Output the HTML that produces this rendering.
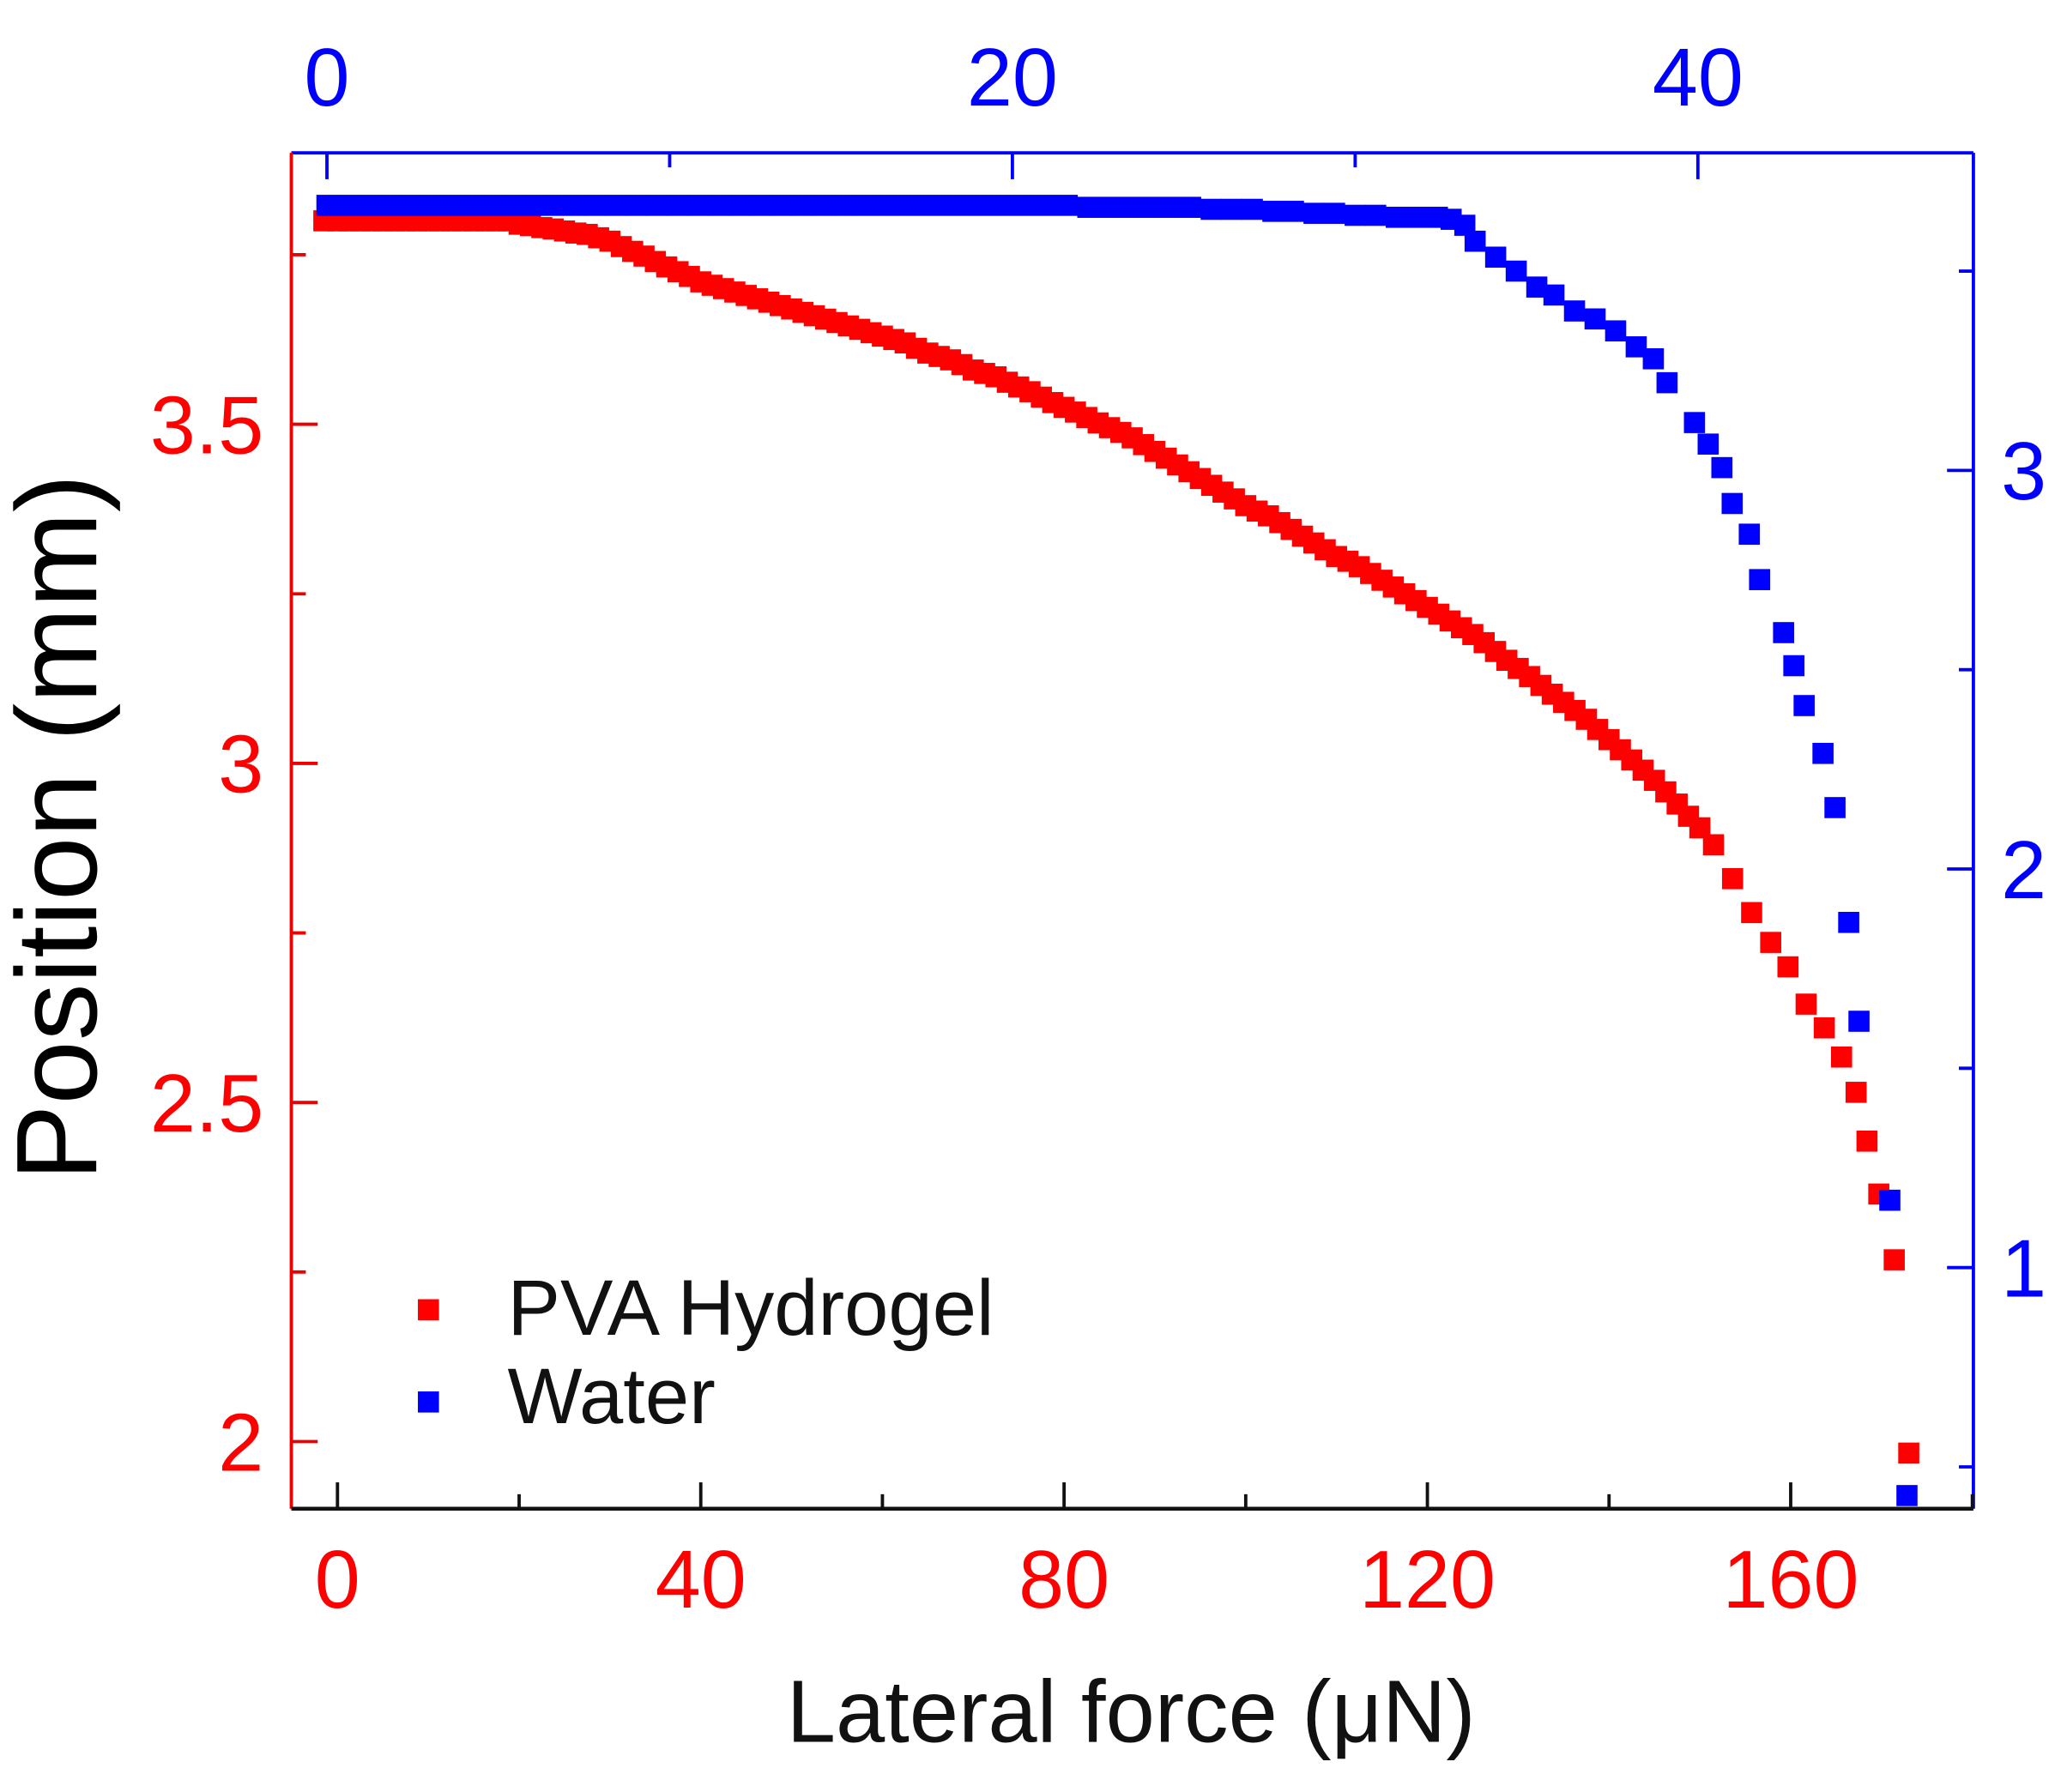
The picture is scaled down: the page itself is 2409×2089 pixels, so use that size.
<!DOCTYPE html>
<html><head><meta charset="utf-8"><style>
html,body{margin:0;padding:0;background:#fff;}
svg{display:block;font-family:"Liberation Sans",Arial,sans-serif;}
</style></head><body>
<svg id="chart" width="2409" height="2089" viewBox="0 0 1568 1360" preserveAspectRatio="none" xmlns="http://www.w3.org/2000/svg">
<g id="axes"></g>
<g id="marks"></g>
<text x="0" y="0" transform="translate(73,628) rotate(-90)" text-anchor="middle" font-size="87" fill="#000">Position (mm)</text>
<text x="858" y="1322" text-anchor="middle" font-size="67" fill="#111">Lateral force (μN)</text>
<g>
<rect x="317" y="986" width="16" height="16" fill="#f00"/>
<text x="385" y="1013" font-size="60" fill="#111">PVA Hydrogel</text>
<rect x="317" y="1056" width="16" height="16" fill="#00f"/>
<text x="385" y="1080" font-size="60" fill="#111">Water</text>
</g>
</svg>
<script>
const pvaX=[-1.5,0,1.25,2.5,3.75,5,6.25,7.5,8.75,10,11.25,12.5,13.75,15,16.25,17.5,18.75,20,21.25,22.5,23.75,25,26.25,27.5,28.75,30,31.25,32.5,33.75,35,36.25,37.5,38.75,40,41.25,42.5,43.75,45,46.25,47.5,48.75,50,51.25,52.5,53.75,55,56.25,57.5,58.75,60,61.25,62.5,63.75,65,66.25,67.5,68.75,70,71.25,72.5,73.75,75,76.25,77.5,78.75,80,81.25,82.5,83.75,85,86.25,87.5,88.75,90,91.25,92.5,93.75,95,96.25,97.5,98.75,100,101.25,102.5,103.75,105,106.25,107.5,108.75,110,111.25,112.5,113.75,115,116.25,117.5,118.75,120,121.25,122.5,123.75,125,126.25,127.5,128.75,130,131.25,132.5,133.75,135,136.25,137.5,138.75,140,141.25,142.5,143.75,145,146.25,147.5,148.75,150,151.5,153.6,155.7,157.8,159.7,161.7,163.7,165.6,167.2,168.4,169.7,171.4,173];
const pvaY=[3.80,3.80,3.80,3.80,3.80,3.80,3.80,3.80,3.80,3.80,3.80,3.80,3.80,3.80,3.80,3.80,3.80,3.795,3.793,3.79,3.788,3.785,3.782,3.78,3.775,3.77,3.762,3.755,3.748,3.74,3.732,3.725,3.718,3.71,3.705,3.70,3.695,3.69,3.685,3.68,3.675,3.67,3.665,3.66,3.655,3.65,3.645,3.64,3.635,3.63,3.625,3.62,3.612,3.605,3.60,3.595,3.588,3.58,3.575,3.57,3.562,3.555,3.548,3.54,3.532,3.525,3.518,3.51,3.502,3.495,3.488,3.48,3.47,3.46,3.45,3.44,3.43,3.42,3.41,3.40,3.39,3.38,3.372,3.365,3.355,3.345,3.335,3.325,3.315,3.305,3.298,3.29,3.28,3.27,3.26,3.25,3.24,3.23,3.22,3.21,3.20,3.19,3.178,3.165,3.152,3.14,3.128,3.115,3.102,3.09,3.078,3.065,3.05,3.035,3.02,3.005,2.99,2.975,2.958,2.94,2.922,2.905,2.88,2.83,2.78,2.736,2.70,2.645,2.61,2.567,2.515,2.443,2.365,2.268,1.983];
const waterX=[0,0.6,1.2,1.8,2.4,3,3.6,4.2,4.8,5.4,6,6.6,7.2,7.8,8.4,9,9.6,10.2,10.8,11.4,12,12.6,13.2,13.8,14.4,15,15.6,16.2,16.8,17.4,18,18.6,19.2,19.8,20.4,21,21.6,22.2,22.8,23.4,24,24.6,25.2,25.8,26.4,27,27.6,28.2,28.8,29.4,30,30.6,31.2,31.8,32.4,32.8,33.2,33.5,34.1,34.7,35.3,35.8,36.4,37.0,37.6,38.2,38.7,39.1,39.9,40.3,40.7,41.0,41.5,41.8,42.5,42.8,43.1,43.65,44.0,44.4,44.7,45.6,46.1];
const waterY=[3.665,3.665,3.665,3.665,3.665,3.665,3.665,3.665,3.665,3.665,3.665,3.665,3.665,3.665,3.665,3.665,3.665,3.665,3.665,3.665,3.665,3.665,3.665,3.665,3.665,3.665,3.665,3.665,3.665,3.665,3.665,3.665,3.665,3.665,3.665,3.665,3.665,3.66,3.66,3.66,3.66,3.66,3.66,3.655,3.655,3.655,3.65,3.65,3.645,3.645,3.64,3.64,3.635,3.635,3.635,3.63,3.615,3.575,3.535,3.50,3.46,3.44,3.40,3.38,3.35,3.31,3.28,3.22,3.12,3.066,3.007,2.917,2.84,2.726,2.593,2.51,2.41,2.29,2.154,1.866,1.618,1.169,0.428];
const bottomTicks=[0,40,80,120,160];
const topTicks=[0,20,40];
const leftTicks=[2,2.5,3,3.5];
const leftTickLabels=["2","2.5","3","3.5"];
const rightTicks=[1,2,3];

const L=221,R=1497,T=116,B=1145;
const xB=v=>256+v*6.89;
const xT=v=>248+v*26;
const yL=v=>322+(3.5-v)*514.7;
const yR=v=>357+(3-v)*302.5;
const NS="http://www.w3.org/2000/svg";
const axes=document.getElementById('axes'), marks=document.getElementById('marks');
function mk(tag,attrs,parent,txt){const e=document.createElementNS(NS,tag);for(const k in attrs)e.setAttribute(k,attrs[k]);if(txt!==undefined)e.textContent=txt;parent.appendChild(e);return e;}

let e;
e=mk('line',{x1:L,y1:T,x2:R,y2:T,stroke:'#00f','stroke-width':2.5},axes);


e=mk('line',{x1:R,y1:T,x2:R,y2:B,stroke:'#00f','stroke-width':2.5},axes);


e=mk('line',{x1:L,y1:T,x2:L,y2:B,stroke:'#e00','stroke-width':2.5},axes);


e=mk('line',{x1:L,y1:B,x2:R,y2:B,stroke:'#111','stroke-width':3},axes);



for(let v=0;v<=180;v+=20){const maj=v%40===0;
 e=mk('line',{x1:xB(v),y1:B,x2:xB(v),y2:B-(maj?20:11),stroke:'#111','stroke-width':2.5},axes);
 
 }
bottomTicks.forEach(v=>{e=mk('text',{x:xB(v),y:1220,'text-anchor':'middle','font-size':62,fill:'#f00'},axes,String(v));
 
 });
for(let v=0;v<=40;v+=10){const maj=v%20===0;
 e=mk('line',{x1:xT(v),y1:T,x2:xT(v),y2:T+(maj?20:11),stroke:'#00f','stroke-width':2.5},axes);
 
 }
topTicks.forEach(v=>{e=mk('text',{x:xT(v),y:80,'text-anchor':'middle','font-size':62,fill:'#00f'},axes,String(v));
 
 });
for(let v=2;v<=3.75;v+=0.25){const maj=(v*2)%1===0;
 e=mk('line',{x1:L,y1:yL(v),x2:L+(maj?20:11),y2:yL(v),stroke:'#e00','stroke-width':2.5},axes);
 
 }
leftTicks.forEach((v,i)=>{e=mk('text',{x:200,y:yL(v)+22,'text-anchor':'end','font-size':62,fill:'#f00'},axes,leftTickLabels[i]);
 
 });
for(let v=0.5;v<=3.5;v+=0.5){const maj=v%1===0;
 e=mk('line',{x1:R,y1:yR(v),x2:R-(maj?20:11),y2:yR(v),stroke:'#00f','stroke-width':2.5},axes);
 
 }
rightTicks.forEach(v=>{e=mk('text',{x:1518,y:yR(v)+22,'font-size':62,fill:'#00f'},axes,String(v));
 
 });

pvaX.forEach((v,i)=>{e=mk('rect',{x:xB(v)-8,y:yL(pvaY[i])-8,width:16,height:16,fill:'#f00'},marks);
 
 });
waterX.forEach((v,i)=>{e=mk('rect',{x:xT(v)-8,y:yR(waterY[i])-8,width:16,height:16,fill:'#00f'},marks);
 
 });
</script>
</body></html>
